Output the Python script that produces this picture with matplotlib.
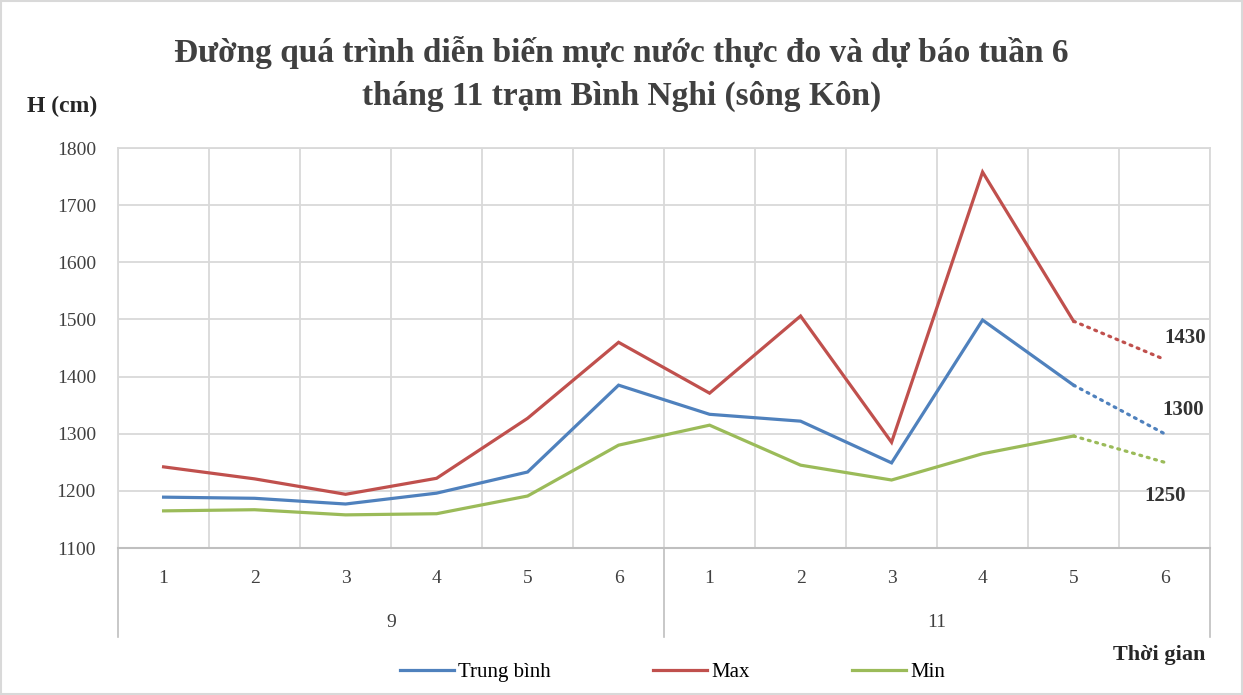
import numpy as np
import matplotlib
matplotlib.use("Agg")
import matplotlib.pyplot as plt
import matplotlib.transforms as mtransforms
from matplotlib.patches import Rectangle

plt.rcParams['font.family'] = ['Liberation Serif', 'DejaVu Serif']

weeks = ['1', '2', '3', '4', '5', '6', '1', '2', '3', '4', '5', '6']
months = ['9', '11']
trung_binh = [1189, 1187, 1177, 1196, 1233, 1385, 1334, 1322, 1249, 1499, 1385, 1300]
max_vals = [1242, 1221, 1194, 1222, 1327, 1460, 1371, 1506, 1285, 1758, 1497, 1430]
min_vals = [1165, 1167, 1158, 1160, 1191, 1280, 1315, 1245, 1219, 1265, 1296, 1250]

series = [("Trung bình", trung_binh, '#4F81BD'),
          ("Max", max_vals, '#C0504D'),
          ("Min", min_vals, '#9BBB59')]

fig = plt.figure(figsize=(12.43, 6.95), dpi=100)
ax = fig.add_axes([0.095, 0.2115, 0.8785, 0.5755])

x = np.arange(len(weeks))
for name, vals, col in series:
    ax.plot(x[:11], vals[:11], color=col, lw=2.3, label=name, solid_joinstyle='miter')
    ax.plot(x[10:], vals[10:], color=col, lw=2.3, linestyle=(0, (0.6, 1.8)),
            dash_capstyle='round')

# forecast labels
lab_kw = dict(textcoords='offset pixels', ha='center', va='center', fontsize=15,
              fontweight='bold', color='#333333')
ax.annotate(str(max_vals[11]), (11, max_vals[11]), xytext=(21, 21), **lab_kw)
ax.annotate(str(trung_binh[11]), (11, trung_binh[11]), xytext=(19, 24), **lab_kw)
ax.annotate(str(min_vals[11]), (11, min_vals[11]), xytext=(1, -34), **lab_kw)

ax.set_xlim(-0.5, 11.5)
ax.set_ylim(1100, 1800)
ax.set_yticks(np.arange(1100, 1801, 100))
ax.set_xticks(np.arange(-0.5, 11.6, 1))
ax.set_xticklabels([])
ax.grid(True, color='#d9d9d9', lw=1.3)
ax.tick_params(axis='both', length=0, labelsize=14, colors='#404040')
ax.tick_params(axis='y', pad=16)
for s in ['top', 'right', 'left']:
    ax.spines[s].set_color('#d9d9d9')
    ax.spines[s].set_linewidth(1.3)
ax.spines['bottom'].set_color('#bfbfbf')
ax.spines['bottom'].set_linewidth(1.5)

# multi-level category axis
trans = mtransforms.blended_transform_factory(ax.transData, ax.transAxes)
for i, w in enumerate(weeks):
    ax.text(i, -0.075, w, transform=trans, ha='center', va='center', fontsize=14, color='#404040')
for j, m in enumerate(months):
    ax.text(2.5 + 6 * j, -0.185, m, transform=trans, ha='center', va='center', fontsize=14, color='#404040')
for xs in [-0.5, 5.5, 11.5]:
    ax.plot([xs, xs], [0, -0.2225], transform=trans, color='#bfbfbf', lw=1.2, clip_on=False)

fig.text(0.5, 0.893, "Đường quá trình diễn biến mực nước thực đo và dự báo tuần 6\ntháng 11 trạm Bình Nghi (sông Kôn)",
         ha='center', va='center', fontsize=24, fontweight='bold', color='#404040', linespacing=1.5)
fig.text(0.022, 0.847, "H (cm)", ha='left', va='center', fontsize=17, fontweight='bold', color='#262626')
fig.text(0.97, 0.057, "Thời gian", ha='right', va='center', fontsize=16, fontweight='bold', color='#262626')

fig.legend(loc='center', bbox_to_anchor=(0.541, 0.033), ncol=3, frameon=False, fontsize=15,
           handlelength=2.6, columnspacing=4.9, handletextpad=0.2)

fig.patches.append(Rectangle((0.001, 0.001), 0.998, 0.998, transform=fig.transFigure,
                             fill=False, edgecolor='#d9d9d9', lw=1.5))

fig.savefig('out.png', dpi=100)
